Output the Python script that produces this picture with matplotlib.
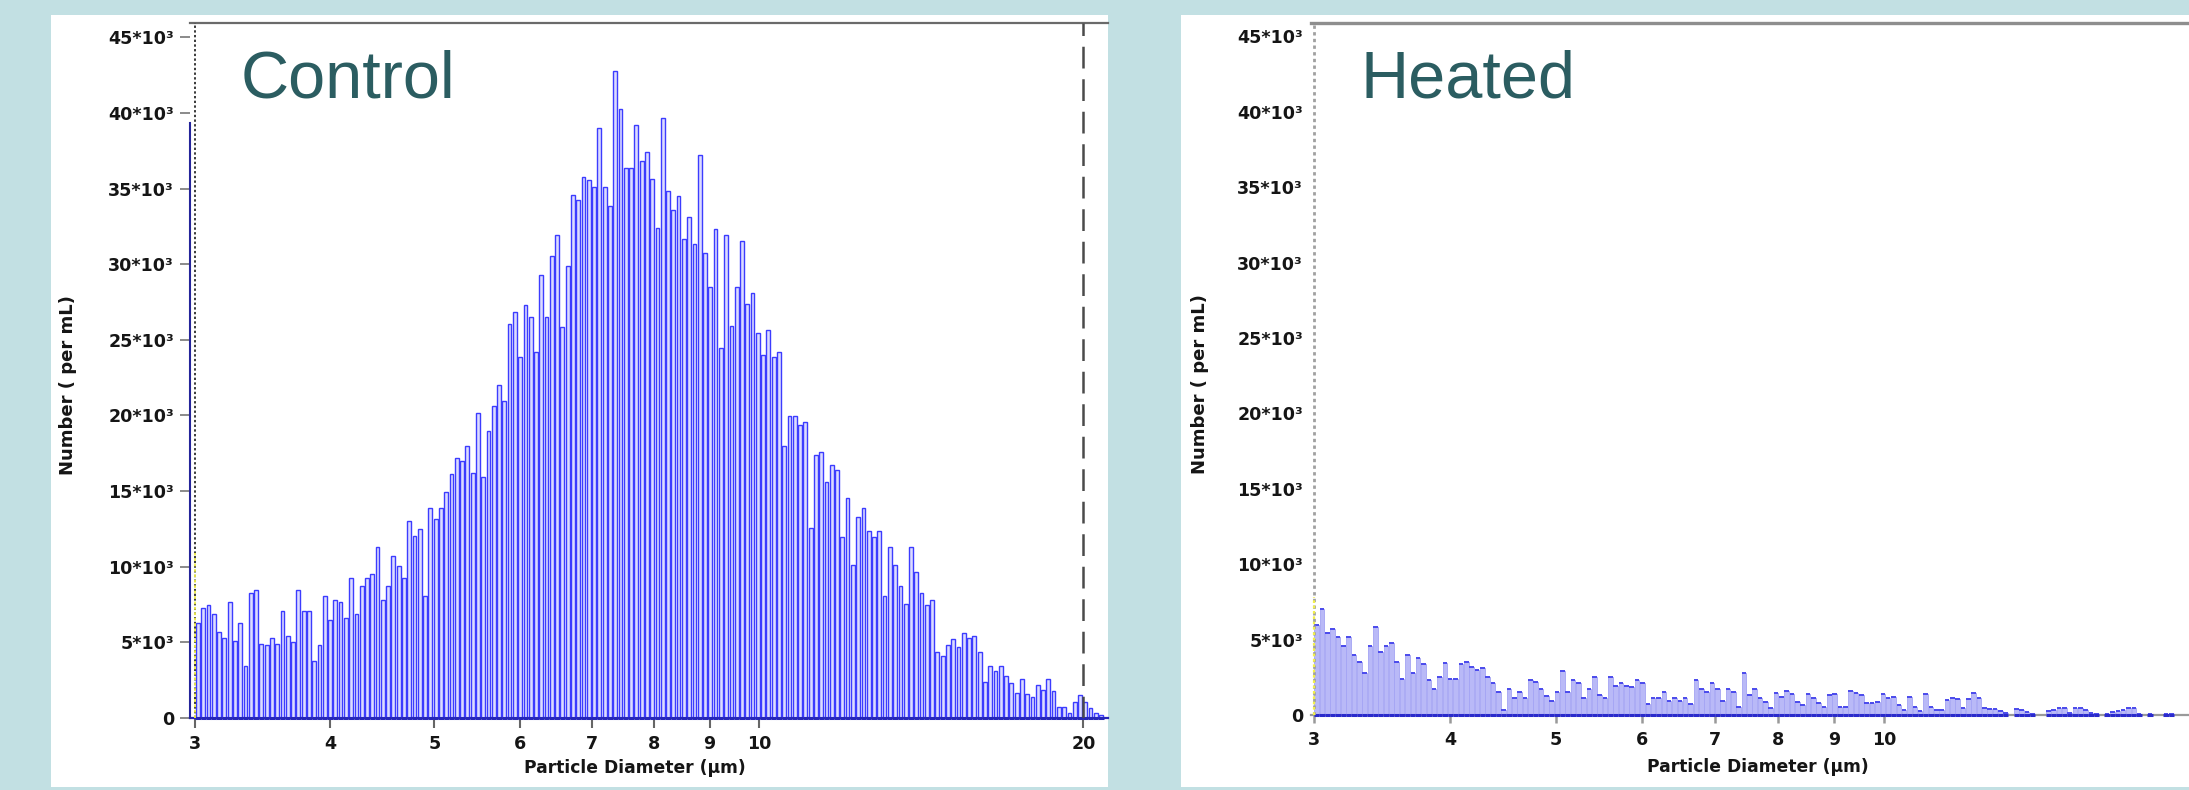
import numpy as np
import matplotlib
matplotlib.use("Agg")
import matplotlib.pyplot as plt
from matplotlib.patches import Rectangle
from matplotlib.ticker import NullLocator

# ---------------- data ----------------
bin_start_um = 3.0          # first bin lower edge (µm)
bin_log_width = 0.0049      # bin width in decades (log-spaced bins)

control_k = [
    6.30, 7.25, 7.49, 6.89, 5.71, 5.26, 7.64, 5.11, 6.30, 3.42,
    8.29, 8.44, 4.87, 4.81, 5.26, 4.87, 7.04, 5.41, 5.05, 8.44,
    7.04, 7.04, 3.77, 4.81, 8.08, 6.51, 7.79, 7.64, 6.60, 9.27,
    6.89, 8.74, 9.27, 9.51, 11.29, 7.79, 8.74, 10.70, 10.07, 9.27,
    12.99, 12.04, 12.48, 8.08, 13.88, 13.13, 13.88, 14.92, 16.11, 17.21,
    17.00, 17.98, 16.20, 20.18, 15.96, 19.00, 20.65, 22.00, 20.95, 26.06,
    26.86, 23.83, 27.31, 26.50, 24.20, 29.27, 26.50, 30.52, 31.95, 25.85,
    29.87, 34.59, 34.23, 35.78, 35.57, 35.13, 38.99, 35.13, 33.85, 42.79,
    40.24, 36.37, 36.37, 39.23, 36.82, 37.41, 35.63, 32.36, 39.64, 34.83,
    33.55, 34.53, 31.65, 33.14, 31.35, 37.21, 30.73, 28.50, 32.30, 24.43,
    31.95, 25.91, 28.50, 31.50, 27.34, 28.08, 25.47, 23.98, 25.62, 23.83,
    24.22, 17.98, 19.97, 19.97, 19.38, 19.58, 12.54, 17.36, 17.59, 15.57,
    16.70, 16.40, 11.95, 14.56, 10.10, 13.28, 13.88, 12.33, 11.95, 12.33,
    8.08, 11.29, 10.10, 8.74, 7.55, 11.29, 9.63, 8.29, 7.49, 7.79,
    4.37, 4.07, 4.81, 5.20, 4.67, 5.65, 5.32, 5.41, 4.37, 2.38,
    3.42, 3.09, 3.42, 2.79, 2.29, 1.63, 2.59, 1.60, 1.40, 2.20,
    1.84, 2.59, 1.78, 0.74, 0.74, 0.36, 1.04, 1.55, 1.04, 0.65, 0.36, 0.20,
]

heated_k = [
    5.97, 7.03, 5.42, 5.68, 5.19, 4.60, 5.19, 3.98, 3.54, 2.76,
    4.58, 5.81, 4.20, 4.58, 4.75, 3.54, 2.37, 3.98, 2.81, 3.76,
    3.38, 2.32, 1.70, 2.54, 3.43, 2.37, 2.37, 3.38, 3.54, 3.21,
    2.98, 3.09, 2.54, 2.14, 1.55, 0.33, 1.70, 1.10, 1.55, 1.15,
    2.32, 2.21, 1.70, 1.26, 0.93, 1.55, 2.92, 1.55, 2.32, 2.14,
    1.10, 1.70, 2.50, 1.33, 1.10, 2.50, 1.92, 2.14, 1.92, 1.88,
    2.32, 2.14, 0.73, 1.10, 1.10, 1.55, 0.93, 1.10, 0.93, 1.10,
    0.73, 2.32, 1.70, 1.55, 2.14, 1.70, 0.93, 1.70, 1.55, 0.55,
    2.76, 1.33, 1.70, 1.10, 0.88, 0.44, 1.44, 1.17, 1.61, 1.39,
    0.84, 0.66, 1.39, 1.10, 0.77, 0.55, 1.33, 1.39, 0.55, 0.55,
    1.59, 1.44, 1.33, 0.82, 0.77, 0.88, 1.39, 1.10, 1.17, 0.66,
    0.33, 1.17, 0.55, 0.27, 1.39, 0.55, 0.33, 0.33, 1.00, 1.10,
    1.04, 0.44, 1.04, 1.44, 1.10, 0.44, 0.38, 0.38, 0.29, 0.15,
    0.00, 0.38, 0.33, 0.22, 0.07, 0.00, 0.00, 0.27, 0.33, 0.44,
    0.44, 0.15, 0.44, 0.44, 0.33, 0.15, 0.07, 0.00, 0.07, 0.22,
    0.27, 0.33, 0.49, 0.49, 0.07, 0.00, 0.07, 0.00, 0.00, 0.07, 0.07,
]

control_gate_k = 10.9       # yellow gate marker height (x10^3)
heated_gate_k = 7.8
control_edge_line_k = 39.3  # navy line at the left border of the control plot

y_ticks = [0, 5000, 10000, 15000, 20000, 25000, 30000, 35000, 40000, 45000]
y_tick_labels = ["0", "5*10³", "10*10³", "15*10³", "20*10³", "25*10³",
                 "30*10³", "35*10³", "40*10³", "45*10³"]
x_ticks_control = [3, 4, 5, 6, 7, 8, 9, 10, 20]
x_ticks_heated = [3, 4, 5, 6, 7, 8, 9, 10]
x_label = "Particle Diameter (µm)"
y_label = "Number ( per mL)"
titles = ["Control", "Heated"]

# ---------------- figure ----------------
W, H = 2189, 790
fig = plt.figure(figsize=(W / 100, H / 100), dpi=100)
fig.patch.set_facecolor("#c2e0e3")

def fx(px):
    return px / W

def fy(py):
    return 1 - py / H

fig.add_artist(Rectangle((fx(51), fy(787)), (1108 - 51) / W, (787 - 15) / H,
                         transform=fig.transFigure, facecolor="white",
                         edgecolor="none", zorder=0))
fig.add_artist(Rectangle((fx(1181), fy(787)), (W - 1181) / W + 0.01, (787 - 15) / H,
                         transform=fig.transFigure, facecolor="white",
                         edgecolor="none", zorder=0))

axL = fig.add_axes([fx(190), fy(718), 918 / W, 695 / H])
axR = fig.add_axes([fx(1311), fy(715), 878 / W, 692 / H])


def bin_bounds(n, frac):
    k = np.arange(n)
    lo = np.log10(bin_start_um) + k * bin_log_width
    g = bin_log_width * (1 - frac) / 2
    return 10 ** (lo + g), 10 ** (lo + bin_log_width - g), 10 ** lo, 10 ** (lo + bin_log_width)


# control bars: outlined, light fill
vals = np.array(control_k) * 1000
l, r, l0, r0 = bin_bounds(len(vals), 0.72)
axL.bar(l, vals, width=r - l, align="edge", facecolor="#dcdcff",
        edgecolor="#3c3cff", linewidth=1.0, zorder=3)
axL.hlines(np.zeros(len(vals)), l0, r0, color="#2626b8", lw=2.2, zorder=4, clip_on=False)

# heated bars: filled, top outline
vals = np.array(heated_k) * 1000
l, r, l0, r0 = bin_bounds(len(vals), 0.86)
m = vals > 0
axR.bar(l[m], vals[m], width=(r - l)[m], align="edge", facecolor="#b9b9f7",
        edgecolor="#a4a4f4", linewidth=0.6, zorder=3)
axR.hlines(vals[m], l[m], r[m], color="#4a4aec", lw=1.4, zorder=4)
axR.hlines(np.zeros(m.sum()), l0[m], r0[m], color="#2a2acc", lw=2.2, zorder=4, clip_on=False)

# axes setup
for ax, xlim, ylim, xt in [(axL, (2.966, 21.08), (0, 45940), x_ticks_control),
                           (axR, (2.981, 19.05), (0, 45890), x_ticks_heated)]:
    ax.set_xscale("log")
    ax.set_xlim(*xlim)
    ax.set_ylim(*ylim)
    ax.xaxis.set_minor_locator(NullLocator())
    ax.set_xticks(xt, [str(v) for v in xt], fontsize=12.6, fontweight="bold", color="#151515")
    ax.set_yticks(y_ticks, y_tick_labels, fontsize=12.6, fontweight="bold", color="#151515")
    ax.set_facecolor("white")
    ax.spines["left"].set_visible(False)
    ax.spines["right"].set_visible(False)

axL.spines["top"].set_color("#6a6a6a")
axL.spines["top"].set_linewidth(1.6)
axL.spines["bottom"].set_color("#2626b8")
axL.spines["bottom"].set_linewidth(1.6)
axL.tick_params(axis="y", length=7.2, width=1.2, color="#777777", pad=4.3)
axL.tick_params(axis="x", length=7.2, width=1.5, color="#666666", pad=5.0)

axR.spines["top"].set_color("#8e8e8e")
axR.spines["top"].set_linewidth(2.4)
axR.spines["bottom"].set_color("#9a9a9a")
axR.spines["bottom"].set_linewidth(1.6)
axR.tick_params(axis="y", length=0, pad=5.8)
axR.tick_params(axis="x", length=5.8, width=1.8, color="#999999", pad=5.5)

# gate / marker lines
axL.axvline(3, color="#2a2a2a", lw=1.3, ls=(0, (1.3, 1.3)), zorder=5)
axL.plot([3, 3], [0, control_gate_k * 1000], color="#f2f04a", lw=1.3,
         ls=(0, (1.5, 1.5)), zorder=6)
axL.plot([2.968, 2.968], [0, control_edge_line_k * 1000], color="#24249a", lw=1.5,
         zorder=6, clip_on=False)
axL.axvline(20, color="#4a4a4a", lw=1.8, dashes=(8.7, 4.3), zorder=5)

axR.axvline(3, color="#a0a0a0", lw=2.0, ls=(0, (1.2, 1.2)), zorder=5)
axR.plot([3, 3], [0, heated_gate_k * 1000], color="#f2f04a", lw=1.6,
         ls=(0, (1.2, 1.2)), zorder=6)

# texts
title_color = "#2b5d61"
fig.text(fx(241), fy(98), titles[0], fontsize=48, color=title_color,
         family="Liberation Sans", ha="left", va="baseline")
fig.text(fx(1361), fy(98), titles[1], fontsize=48, color=title_color,
         family="Liberation Sans", ha="left", va="baseline")

fig.text(fx(68), fy(385), y_label, rotation=90, ha="center", va="center",
         fontsize=13, fontweight="bold", color="#151515")
fig.text(fx(1200), fy(384), y_label, rotation=90, ha="center", va="center",
         fontsize=13, fontweight="bold", color="#151515")
fig.text(fx(635), fy(768), x_label, ha="center", va="center",
         fontsize=12.3, fontweight="bold", color="#151515")
fig.text(fx(1758), fy(767), x_label, ha="center", va="center",
         fontsize=12.3, fontweight="bold", color="#151515")

fig.savefig("out.png", dpi=100, facecolor=fig.get_facecolor())
